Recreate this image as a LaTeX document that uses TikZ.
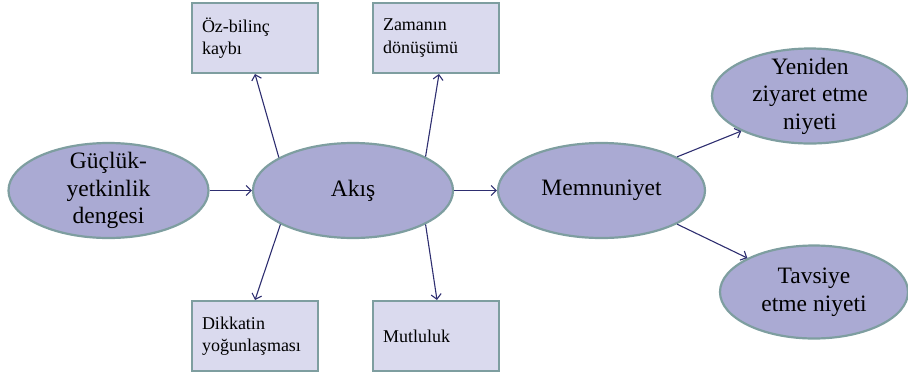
\documentclass[tikz,border=0pt]{standalone}
\usepackage{fontspec}
\setmainfont{Liberation Serif}
\usetikzlibrary{shapes.geometric,arrows.meta}
\definecolor{ellfill}{RGB}{170,170,211}
\definecolor{boxfill}{RGB}{218,218,238}
\definecolor{edgec}{RGB}{126,158,160}
\definecolor{arrc}{RGB}{46,46,112}
\tikzset{
  ell/.style={ellipse, draw=edgec, line width=2.2pt, fill=ellfill, inner sep=-14pt,
    align=center, font=\fontsize{23.5}{27.5}\selectfont},
  sbox/.style={rectangle, draw=edgec, line width=2pt, fill=boxfill, minimum height=70pt,
    text width=106pt, inner xsep=10pt, inner ysep=0pt, align=left,
    font=\fontsize{18}{22.5}\selectfont},
  arr/.style={draw=arrc, line width=1.1pt, -{Straight Barb[length=5pt,width=10pt,line width=1.1pt]}}
}
\begin{document}
\begin{tikzpicture}[x=1pt,y=-1pt]
\useasboundingbox (0,0) rectangle (908,376);
\node[ell, minimum width=200pt, minimum height=95pt] (gu) at (108.5,190.5) {Güçlük-\\yetkinlik\\dengesi};
\node[ell, minimum width=200pt, minimum height=95pt] (akis) at (353,190.5) {Akış};
\node[ell, minimum width=207pt, minimum height=95pt] (memn) at (601.5,190.5) {Memnuniyet};
\node[ell, minimum width=196pt, minimum height=95pt] (yen) at (810,96) {Yeniden\\ziyaret etme\\niyeti};
\node[ell, minimum width=188pt, minimum height=93pt] (tav) at (814,292) {Tavsiye\\etme niyeti};
\node[sbox] (oz) at (255,38) {Öz-bilinç\\kaybı};
\node[sbox] (zam) at (436,38) {Zamanın\\dönüşümü};
\node[sbox] (dik) at (255,336) {Dikkatin\\yoğunlaşması};
\node[sbox] (mut) at (436,336) {Mutluluk};
\draw[arr] (gu.east) -- (akis.west);
\draw[arr] (akis.east) -- (memn.west);
\draw[arr] (akis.156) -- (oz.south);
\draw[arr] (akis.25) -- ([xshift=3pt]zam.south);
\draw[arr] (akis.205) -- (dik.north);
\draw[arr] (akis.335) -- ([xshift=1pt]mut.north);
\draw[arr] (memn.24) -- (yen.207);
\draw[arr] (memn.-24) -- (tav.153);
\end{tikzpicture}
\end{document}
